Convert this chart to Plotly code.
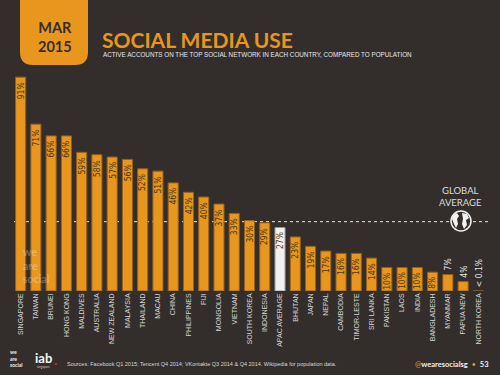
import plotly.graph_objects as go

countries = ["SINGAPORE", "TAIWAN", "BRUNEI", "HONG KONG", "MALDIVES", "AUSTRALIA",
             "NEW ZEALAND", "MALAYSIA", "THAILAND", "MACAU", "CHINA", "PHILIPPINES",
             "FIJI", "MONGOLIA", "VIETNAM", "SOUTH KOREA", "INDONESIA", "APAC AVERAGE",
             "BHUTAN", "JAPAN", "NEPAL", "CAMBODIA", "TIMOR-LESTE", "SRI LANKA",
             "PAKISTAN", "LAOS", "INDIA", "BANGLADESH", "MYANMAR", "PAPUA NEW", "NORTH KOREA"]
values = [91, 71, 66, 66, 59, 58, 57, 56, 52, 51, 46, 42, 40, 37, 33, 30, 29, 27,
          23, 19, 17, 16, 16, 14, 10, 10, 10, 8, 7, 4, 0.1]
value_labels = [f"{v}%" for v in values[:-1]] + ["< 0.1%"]
GLOBAL_AVG = 29.5

BG = "#332e2c"
ORANGE = "#e8961e"
W, H = 500, 375
ML, MR, MT, MB = 13, 14, 56, 84
PW, PH = W - ML - MR, H - MT - MB


def px(x):
    return (x - ML) / PW


def py(y):
    return (H - MB - y) / PH


bar_colors = []
line_colors = []
for c in countries:
    if c == "APAC AVERAGE":
        bar_colors.append("#f0f0f0")
        line_colors.append("#9a9a9a")
    elif c == "NORTH KOREA":
        bar_colors.append("#7a5a30")
        line_colors.append("#7a5a30")
    else:
        bar_colors.append(ORANGE)
        line_colors.append("#94601a")

fig = go.Figure(go.Bar(
    x=countries, y=values,
    marker=dict(color=bar_colors, line=dict(color=line_colors, width=1)),
    hoverinfo="skip",
))

label_font = "Liberation Sans Narrow, DejaVu Sans Condensed, Arial Narrow, sans-serif"
ann = []
for c, v, t in zip(countries, values, value_labels):
    inside = v >= 8
    ann.append(dict(
        x=c, y=v, xref="x", yref="y", text=t, textangle=-90, showarrow=False,
        xanchor="center",
        yanchor="top" if inside else "bottom", yshift=-3 if inside else 2,
        font=dict(family=label_font, size=8.5,
                  color="#4a3716" if inside else "#e2e2e2"),
    ))

WM = "rgba(255,255,255,0.28)"
# header / decorations (pixel positions converted to paper coordinates)
ann += [
    dict(x=px(55), y=py(37), text="<b>MAR<br>2015</b>",
         font=dict(family="Lato, sans-serif", size=14.5, color=BG)),
    dict(x=px(100), y=py(39), text="<b>SOCIAL MEDIA USE</b>", xanchor="left",
         font=dict(family="Lato, sans-serif", size=21, color=ORANGE)),
    dict(x=px(101), y=py(54.5), xanchor="left",
         text="ACTIVE ACCOUNTS ON THE TOP SOCIAL NETWORK IN EACH COUNTRY, COMPARED TO POPULATION",
         font=dict(family="Liberation Sans, sans-serif", size=6.3, color="#e6e6e6")),
    dict(x=px(460), y=py(196), text="GLOBAL<br>AVERAGE",
         font=dict(family="Lato, sans-serif", size=9.5, color="#dcdcdc")),
    # watermark
    dict(x=px(21), y=py(265), xanchor="left", align="left", text="<b>we<br>are<br>social</b>",
         font=dict(family="Lato, sans-serif", size=10.5, color=WM)),
    # footer
    dict(x=px(8), y=py(358.5), xanchor="left", align="left", text="<b>we<br>are<br>social</b>",
         font=dict(family="Lato, sans-serif", size=5, color="#f0f0f0")),
    dict(x=px(33), y=py(358), xanchor="left", text="<b>iab</b>",
         font=dict(family="Lato, sans-serif", size=13, color="#f4f4f4")),
    dict(x=px(52), y=py(360), xanchor="left", text="<b>.</b>",
         font=dict(family="Lato, sans-serif", size=13, color="#e0252a")),
    dict(x=px(35), y=py(367), xanchor="left", text="singapore",
         font=dict(family="Lato, sans-serif", size=3, color="#d0d0d0")),
    dict(x=px(65), y=py(364), xanchor="left",
         text="Sources: Facebook Q1 2015; Tencent Q4 2014; VKontakte Q3 2014 & Q4 2014. Wikipedia for population data.",
         font=dict(family="Liberation Sans, sans-serif", size=5.5, color="#d8d8d8")),
    dict(x=px(491), y=py(364), xanchor="right",
         text="<span style='color:#e8961e'>@</span><b>wearesocialsg</b>  <span style='color:#e8961e'>•</span>  <b>53</b>",
         font=dict(family="Lato, sans-serif", size=7.5, color="#f0f0f0")),
]
for a in ann:
    a.setdefault("xref", "paper")
    a.setdefault("yref", "paper")
    a.setdefault("showarrow", False)
    a.setdefault("xanchor", "center")
    a.setdefault("yanchor", "middle")


def path(points, close=True):
    s = "M " + " L ".join(f"{px(x):.5f},{py(y):.5f}" for x, y in points)
    return s + (" Z" if close else "")


# header tab with rounded bottom corners
r = 13
tab = (f"M {px(20):.5f},{py(-5):.5f} L {px(88):.5f},{py(-5):.5f} "
       f"L {px(88):.5f},{py(65 - r):.5f} Q {px(88):.5f},{py(65):.5f} {px(88 - r):.5f},{py(65):.5f} "
       f"L {px(20 + r):.5f},{py(65):.5f} Q {px(20):.5f},{py(65):.5f} {px(20):.5f},{py(65 - r):.5f} Z")

gx, gy, gr = 461, 221, 10
shapes = [
    dict(type="path", path=tab, xref="paper", yref="paper", fillcolor=ORANGE, line=dict(width=0)),
    dict(type="line", xref="paper", yref="y", x0=px(14), x1=px(449), y0=GLOBAL_AVG, y1=GLOBAL_AVG,
         line=dict(color="#e8e8e8", width=1, dash="dot"), layer="below"),
    dict(type="line", xref="paper", yref="y", x0=px(473), x1=px(490), y0=GLOBAL_AVG, y1=GLOBAL_AVG,
         line=dict(color="#e8e8e8", width=1, dash="dot"), layer="below"),
    dict(type="circle", xref="paper", yref="paper", x0=px(gx - gr), x1=px(gx + gr),
         y0=py(gy + gr), y1=py(gy - gr), fillcolor=BG, line=dict(color="#f2f2f2", width=1.5)),
    dict(type="path", xref="paper", yref="paper", fillcolor="#f2f2f2", line=dict(width=0),
         path=path([(453, 215), (457, 213), (459, 216), (457, 219), (458, 224), (456, 228),
                    (454, 224), (452, 219)])),
    dict(type="path", xref="paper", yref="paper", fillcolor="#f2f2f2", line=dict(width=0),
         path=path([(462, 213), (467, 214), (469, 218), (466, 220), (467, 225), (464, 229),
                    (462, 224), (463, 219)])),
]

fig.update_layout(
    width=W, height=H,
    margin=dict(l=ML, r=MR, t=MT, b=MB),
    paper_bgcolor=BG, plot_bgcolor=BG,
    bargap=0.34, showlegend=False,
    annotations=ann, shapes=shapes,
    xaxis=dict(type="category", tickangle=-90, showgrid=False, zeroline=False, showline=False,
               ticks="", tickfont=dict(family="Liberation Sans, sans-serif", size=7, color="#d4d4d4"),
               fixedrange=True),
    yaxis=dict(range=[0, 100], visible=False, fixedrange=True),
)

fig.write_html("out.html", config={"displayModeBar": False},
               post_script="document.body.style.margin='0';document.body.style.background='#332e2c';")
